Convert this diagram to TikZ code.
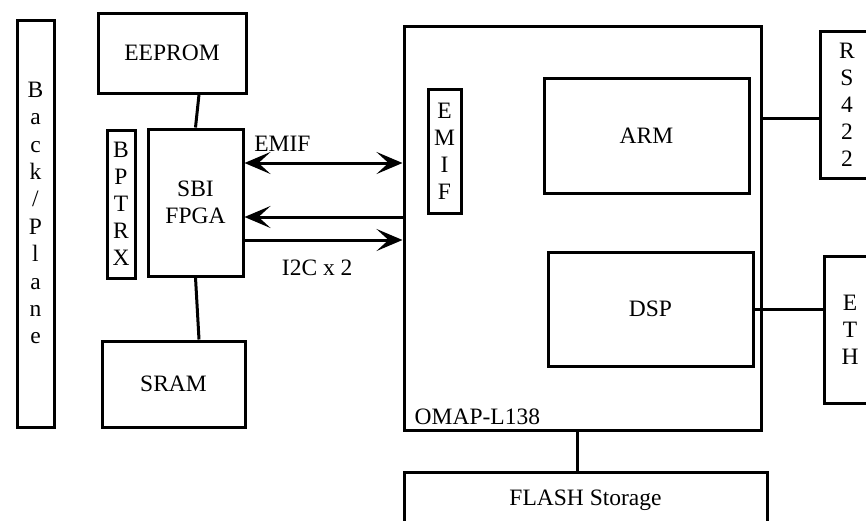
\documentclass[tikz,border=0pt]{standalone}
\usepackage{fontspec}
\setmainfont{Liberation Serif}
\usetikzlibrary{arrows.meta, positioning}

\begin{document}
\begin{tikzpicture}[
    x=1pt, y=-1pt,
    blk/.style  = {rectangle, draw, line width=3pt, inner sep=0pt, align=center,
                   font=\fontsize{23.5}{27}\selectfont},
    vtxt/.style = {inner sep=0pt, align=center, font=\fontsize{23.5}{27.4}\selectfont},
    lbl/.style  = {inner sep=0pt, font=\fontsize{23.5}{27}\selectfont},
    wire/.style = {line width=3pt},
    arr/.style  = {line width=3pt, >={Stealth[length=26pt, width=22pt, inset=12pt]}}
  ]
  \clip (0,0) rectangle (866,520);

  % Backplane and memories
  \node[blk, minimum width=37pt,  minimum height=407pt] (bp)     at ( 35.5, 223.5) {};
  \node[vtxt] (bptext) at (35.5, 213) {B\\a\\c\\k\\/\\P\\l\\a\\n\\e};
  \node[blk, minimum width=148pt, minimum height=80pt]  (eeprom) at (172,    53)   {EEPROM};
  \node[blk, minimum width=28pt,  minimum height=148pt] (bptrx)  at (121,   204)   {B\\P\\T\\R\\X};
  \node[blk, minimum width=95pt,  minimum height=147pt] (fpga)   at (195.5, 202.5) {SBI\\FPGA};
  \node[blk, minimum width=143pt, minimum height=86pt]  (sram)   at (173.5, 384)   {SRAM};

  % Processor
  \node[blk, minimum width=357pt, minimum height=404pt] (omap)   at (582.5, 228)   {};
  \node[lbl, anchor=south west] (omaplbl) at ([xshift=12pt, yshift=7pt]omap.south west) {OMAP-L138};
  \node[blk, minimum width=33pt,  minimum height=124pt] (emif)   at (444.5, 151)   {E\\M\\I\\F};
  \node[blk, minimum width=205pt, minimum height=115pt] (arm)    at (646.5, 135.5) {ARM};
  \node[blk, minimum width=205pt, minimum height=114pt] (dsp)    at (650.5, 309)   {DSP};

  % Outside interfaces
  \node[blk, minimum width=54pt,  minimum height=147pt] (rs)     at (847,   104.5) {R\\S\\4\\2\\2};
  \node[blk, minimum width=52pt,  minimum height=147pt] (eth)    at (850,   329.5) {E\\T\\H};
  \node[blk, minimum width=363pt, minimum height=56pt]  (flash)  at (585.5, 500)   {FLASH Storage};

  % Wires
  \draw[wire] ([xshift=27pt]eeprom.south) -- (fpga.north);
  \draw[wire] (fpga.south) -- ([xshift=25.5pt]sram.north);
  \draw[wire] ([yshift=-14pt]rs.west) coordinate (r1) -- (r1 -| omap.east);
  \draw[wire] (dsp.east) -- (dsp.east -| eth.west);
  \draw[wire] ([xshift=-5.5pt]omap.south) coordinate (f1) -- (f1 |- flash.north);

  % Buses
  \draw[arr, <->] ([yshift=39.5pt]fpga.east) coordinate (e1) -- (e1 -| omap.west)
      node[lbl, pos=0.24, above=10pt] (emiflbl) {EMIF};
  \draw[arr, <-]  ([yshift=-14.5pt]fpga.east) coordinate (e2) -- (e2 -| omap.west);
  \draw[arr, ->]  ([yshift=-37.5pt]fpga.east) coordinate (e3) -- (e3 -| omap.west)
      node[lbl, pos=0.46, below=18pt] (i2clbl) {I2C x 2};
\end{tikzpicture}
\end{document}
